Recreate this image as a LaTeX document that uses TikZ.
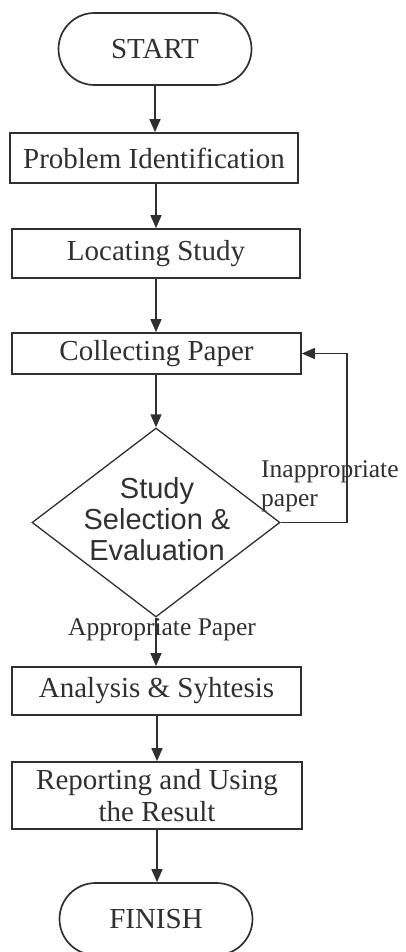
\documentclass[tikz,border=0pt]{standalone}
\usepackage{fontspec}
\setmainfont{Liberation Serif}
\newfontfamily\diafont{Liberation Sans}
\usetikzlibrary{arrows.meta,shapes.geometric}
\definecolor{inkc}{HTML}{303030}
\begin{document}
\begin{tikzpicture}[x=1pt,y=-1pt,
  ink/.style={draw=inkc, line width=1.7pt},
  procbox/.style={ink, rectangle, inner sep=0pt, text=inkc, align=center,
    font=\fontsize{29}{33}\selectfont},
  term/.style={ink, rounded corners=36pt, inner sep=0pt, text=inkc,
    minimum width=193pt, minimum height=72pt, font=\fontsize{29}{33}\selectfont},
  flow/.style={draw=inkc, line width=1.5pt, -{Triangle[length=13pt,width=11pt]}},
  lbl/.style={inner sep=0pt, text=inkc, font=\fontsize{25.5}{30}\selectfont}
]
\clip (0,0) rectangle (406,952);
\fill[white] (0,0) rectangle (406,952);

% process chain
\node[term] (start) at (155,49) {START};
\node[procbox, minimum width=288pt, minimum height=50pt] (prob) at (154,158) {Problem Identification};
\node[procbox, minimum width=288pt, minimum height=49pt] (loc) at (156,253.5) {Locating Study};
\node[procbox, minimum width=289pt, minimum height=41pt] (coll) at (156.5,353.5) {Collecting Paper};

% decision
\node[draw=inkc, line width=1.3pt, shape=diamond, inner sep=0pt,
  minimum width=248pt, minimum height=189pt] (dia) at (156,522.5) {};
\node[inner sep=0pt, text=inkc, align=center,
  font=\diafont\fontsize{29}{31}\selectfont] (diatext) at (157,519)
  {Study\\Selection \&\\Evaluation};

\node[procbox, minimum width=289pt, minimum height=48pt] (ana) at (156.5,691) {Analysis \& Syhtesis};
\node[procbox, minimum width=290pt, minimum height=67pt] (rep) at (157,795.5)
  {Reporting and Using\\[-1pt]the Result};
\node[term] (fin) at (156,919) {FINISH};

% connectors
\draw[flow] (start.south -| 155,0) -- (prob.north -| 155,0);
\draw[flow] (prob.south -| 156,0) -- (loc.north -| 156,0);
\draw[flow] (loc.south -| 156,0) -- (coll.north -| 156,0);
\draw[flow] (coll.south -| dia.north) -- (dia.north);
\draw[flow] (dia.south) -- (ana.north -| dia.south);
\draw[flow] (ana.south -| 157,0) -- (rep.north -| 157,0);
\draw[flow] (rep.south -| 157,0) -- (fin.north -| 157,0);

% rejection loop
\coordinate (loopx) at (347,0);
\draw[flow] (dia.east) -- (dia.east -| loopx) |- (coll.east);

% labels
\node[lbl, anchor=base west, align=left] (inap) at (261,477) {Inappropriate};
\node[lbl, anchor=base west] (inap2) at (261,506) {paper};
\node[lbl, anchor=base] (appr) at (162,635) {Appropriate Paper};
\end{tikzpicture}
\end{document}
